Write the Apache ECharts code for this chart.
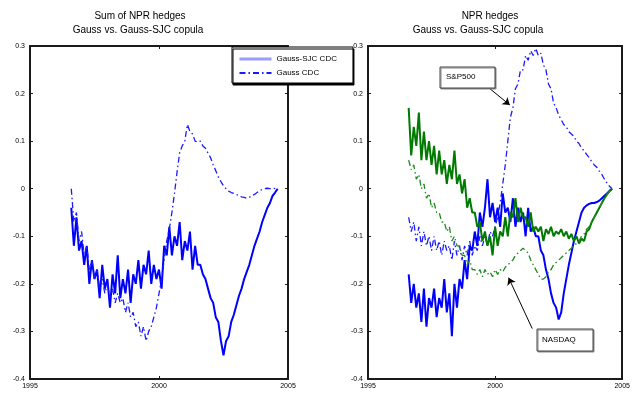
<!DOCTYPE html>
<html>
<head>
<meta charset="utf-8">
<script src="https://cdn.jsdelivr.net/npm/echarts@6/dist/echarts.min.js"></script>
<style>
html,body{margin:0;padding:0;background:#fff;}
#charts{width:633px;height:395px;}
</style>
</head>
<body>
<div id="charts"></div>
<script>
var FONT = "'Liberation Sans Narrow','Arial Narrow','Liberation Sans',sans-serif";

// shared time axis (years), one point per 0.1 year
var years = [
	1996.6,1996.7,1996.8,1996.9,1997.0,1997.1,1997.2,1997.3,1997.4,1997.5,
	1997.6,1997.7,1997.8,1997.9,1998.0,1998.1,1998.2,1998.3,1998.4,1998.5,
	1998.6,1998.7,1998.8,1998.9,1999.0,1999.1,1999.2,1999.3,1999.4,1999.5,
	1999.6,1999.7,1999.8,1999.9,2000.0,2000.1,2000.2,2000.3,2000.4,2000.5,
	2000.6,2000.7,2000.8,2000.9,2001.0,2001.1,2001.2,2001.3,2001.4,2001.5,
	2001.6,2001.7,2001.8,2001.9,2002.0,2002.1,2002.2,2002.3,2002.4,2002.5,
	2002.6,2002.7,2002.8,2002.9,2003.0,2003.1,2003.2,2003.3,2003.4,2003.5,
	2003.6,2003.7,2003.8,2003.9,2004.0,2004.1,2004.2,2004.3,2004.4,2004.5,
	2004.6
];

// 左图: 对冲之和
var sumSjc = [
	-0.04,-0.12,-0.06,-0.13,-0.11,-0.16,-0.12,-0.20,-0.15,-0.19,
	-0.17,-0.23,-0.16,-0.21,-0.19,-0.25,-0.18,-0.22,-0.14,-0.23,
	-0.19,-0.22,-0.17,-0.24,-0.18,-0.20,-0.15,-0.21,-0.16,-0.18,
	-0.13,-0.20,-0.16,-0.19,-0.17,-0.21,-0.12,-0.14,-0.08,-0.14,
	-0.10,-0.12,-0.07,-0.15,-0.11,-0.13,-0.09,-0.17,-0.12,-0.16,
	-0.16,-0.18,-0.19,-0.21,-0.23,-0.24,-0.27,-0.28,-0.32,-0.35,
	-0.32,-0.31,-0.28,-0.265,-0.245,-0.225,-0.21,-0.19,-0.175,-0.16,
	-0.14,-0.12,-0.105,-0.09,-0.07,-0.055,-0.04,-0.03,-0.015,-0.008,
	0
];
var sumGauss = [
	0.0,-0.07,-0.05,-0.11,-0.09,-0.14,-0.12,-0.17,-0.15,-0.19,
	-0.17,-0.21,-0.19,-0.22,-0.20,-0.23,-0.21,-0.24,-0.22,-0.24,
	-0.23,-0.26,-0.24,-0.27,-0.26,-0.29,-0.28,-0.31,-0.29,-0.32,
	-0.30,-0.29,-0.27,-0.25,-0.22,-0.19,-0.15,-0.11,-0.085,-0.05,
	-0.01,0.035,0.075,0.09,0.10,0.135,0.12,0.115,0.10,0.098,
	0.10,0.09,0.085,0.075,0.065,0.05,0.038,0.025,0.015,0.006,
	0.0,-0.005,-0.008,-0.01,-0.012,-0.015,-0.017,-0.018,-0.02,-0.018,
	-0.015,-0.012,-0.008,-0.004,-0.002,0.0,0.001,0.0,0.001,0.0,
	0
];

// 右图: S&P500 与 NASDAQ
var spGauss = [
	-0.06,-0.09,-0.07,-0.11,-0.08,-0.12,-0.09,-0.12,-0.10,-0.13,
	-0.10,-0.13,-0.11,-0.14,-0.11,-0.13,-0.12,-0.15,-0.11,-0.14,
	-0.12,-0.15,-0.12,-0.14,-0.11,-0.14,-0.12,-0.13,-0.10,-0.12,
	-0.10,-0.12,-0.09,-0.10,-0.08,-0.06,-0.03,0.01,0.05,0.10,
	0.15,0.17,0.21,0.22,0.25,0.25,0.28,0.27,0.29,0.28,
	0.295,0.28,0.285,0.26,0.25,0.22,0.21,0.18,0.17,0.155,
	0.145,0.135,0.13,0.12,0.115,0.11,0.10,0.095,0.085,0.08,
	0.072,0.065,0.057,0.05,0.045,0.037,0.03,0.02,0.012,0.005,
	0
];
var spSjc = [
	-0.18,-0.24,-0.20,-0.25,-0.22,-0.28,-0.21,-0.29,-0.23,-0.25,
	-0.21,-0.27,-0.23,-0.25,-0.19,-0.26,-0.22,-0.31,-0.20,-0.25,
	-0.19,-0.21,-0.15,-0.19,-0.12,-0.13,-0.09,-0.12,-0.05,-0.08,
	-0.04,0.02,-0.06,-0.03,-0.07,-0.04,-0.08,-0.01,-0.05,-0.04,
	-0.07,-0.02,-0.08,-0.04,-0.07,-0.05,-0.10,-0.04,-0.09,-0.08,
	-0.10,-0.10,-0.13,-0.14,-0.17,-0.19,-0.22,-0.24,-0.25,-0.275,
	-0.26,-0.22,-0.19,-0.16,-0.135,-0.11,-0.09,-0.07,-0.05,-0.04,
	-0.035,-0.032,-0.03,-0.03,-0.028,-0.025,-0.02,-0.015,-0.01,-0.005,
	0
];
var nqSjc = [
	0.17,0.07,0.13,0.09,0.16,0.06,0.12,0.06,0.10,0.05,
	0.09,0.03,0.08,0.03,0.06,0.01,0.05,0.02,0.08,0.01,
	0.03,-0.01,0.02,-0.04,-0.02,-0.05,-0.05,-0.08,-0.07,-0.11,
	-0.09,-0.12,-0.10,-0.14,-0.08,-0.12,-0.09,-0.10,-0.06,-0.10,
	-0.05,-0.06,-0.02,-0.07,-0.04,-0.06,-0.06,-0.08,-0.05,-0.09,
	-0.08,-0.09,-0.08,-0.11,-0.085,-0.095,-0.08,-0.10,-0.09,-0.095,
	-0.085,-0.10,-0.09,-0.105,-0.095,-0.11,-0.10,-0.115,-0.105,-0.11,
	-0.09,-0.085,-0.07,-0.06,-0.05,-0.04,-0.03,-0.02,-0.012,-0.005,
	0
];
var nqGauss = [
	0.06,0.04,0.05,0.02,0.03,0.0,0.01,-0.02,-0.01,-0.04,
	-0.03,-0.05,-0.05,-0.07,-0.07,-0.09,-0.08,-0.11,-0.10,-0.12,
	-0.12,-0.14,-0.14,-0.16,-0.15,-0.17,-0.17,-0.18,-0.17,-0.185,
	-0.17,-0.18,-0.175,-0.185,-0.17,-0.18,-0.17,-0.175,-0.165,-0.16,
	-0.155,-0.15,-0.14,-0.135,-0.13,-0.125,-0.13,-0.135,-0.15,-0.16,
	-0.17,-0.18,-0.19,-0.19,-0.185,-0.175,-0.17,-0.16,-0.155,-0.15,
	-0.145,-0.14,-0.135,-0.13,-0.125,-0.12,-0.115,-0.11,-0.10,-0.095,
	-0.085,-0.08,-0.07,-0.06,-0.05,-0.04,-0.03,-0.02,-0.012,-0.005,
	0
];

// 坐标轴范围
var xRange = [1995, 2005];
var xStep = 5;
var yRange = [-0.4, 0.3];
var yStep = 0.1;

// 箭头标注 (数据坐标)
var spArrow = [[1999.8, 0.21], [2000.58, 0.176]];
var nqArrow = [[2001.46, -0.294], [2000.53, -0.187]];

function pairs(ys){
	var out = [];
	for(var i=0;i<years.length;i++){
		out.push([years[i], ys[i]]);
	}
	return out;
}

function yFmt(v){
	var r = Math.round(v*10)/10;
	return r === 0 ? '0' : r.toString();
}
function xFmt(v){
	return String(Math.round(v));
}

var axisCol = '#1a1a1a';
var dashDot = [6, 3, 1.5, 3];

function makeX(grid, pos, show){
	return {
		type:'value', gridIndex:grid, position:pos, min:xRange[0], max:xRange[1], interval:xStep,
		axisLine:{show:true, onZero:false, lineStyle:{color:axisCol, width:2}},
		axisTick:{show:true, inside:true, length:3, lineStyle:{color:axisCol}},
		axisLabel:{show:show, fontSize:7, color:'#000', margin:4, fontFamily:FONT, formatter:xFmt},
		splitLine:{show:false}
	};
}
function makeY(grid, pos, show){
	return {
		type:'value', gridIndex:grid, position:pos, min:yRange[0], max:yRange[1], interval:yStep,
		axisLine:{show:true, onZero:false, lineStyle:{color:axisCol, width:2}},
		axisTick:{show:true, inside:true, length:3, lineStyle:{color:axisCol}},
		axisLabel:{show:show, fontSize:7, color:'#000', margin:5, fontFamily:FONT, formatter:yFmt},
		splitLine:{show:false}
	};
}

var charts = echarts.init(document.getElementById('charts'));
var option = {
	animation:false,
	backgroundColor:'#fff',
	grid:[
		{left:30, top:46, width:258, height:333},
		{left:368, top:46, width:260, height:333}
	],
	xAxis:[makeX(0,'bottom',true), makeX(0,'top',false), makeX(1,'bottom',true), makeX(1,'top',false)],
	yAxis:[makeY(0,'left',true), makeY(0,'right',false), makeY(1,'left',true), makeY(1,'right',false)],
	legend:{
		orient:'vertical',
		left:232, top:47,
		padding:[8, 16, 6, 6],
		itemGap:6,
		itemWidth:32, itemHeight:8,
		borderColor:'#000', borderWidth:1,
		backgroundColor:'#fff',
		shadowColor:'#000', shadowOffsetX:1, shadowOffsetY:2, shadowBlur:0,
		textStyle:{fontSize:8, color:'#000', fontFamily:FONT},
		itemStyle:{opacity:0},
		data:[
			{name:'Gauss-SJC CDC', lineStyle:{color:'#9a9aff', width:3, type:'solid'}, itemStyle:{opacity:0}},
			{name:'Gauss CDC', itemStyle:{opacity:0}}
		]
	},
	graphic:[
		{type:'text', x:140, y:11, style:{text:'Sum of NPR hedges', fontSize:10, fontFamily:FONT, fill:'#000', textAlign:'center'}},
		{type:'text', x:138, y:25, style:{text:'Gauss vs. Gauss-SJC copula', fontSize:10, fontFamily:FONT, fill:'#000', textAlign:'center'}},
		{type:'text', x:490, y:11, style:{text:'NPR hedges', fontSize:10, fontFamily:FONT, fill:'#000', textAlign:'center'}},
		{type:'text', x:478, y:25, style:{text:'Gauss vs. Gauss-SJC copula', fontSize:10, fontFamily:FONT, fill:'#000', textAlign:'center'}},
		{type:'rect', x:440, y:67, z:50, shape:{width:55, height:21},
			style:{fill:'#fff', stroke:'#444', lineWidth:1, shadowColor:'#888', shadowOffsetX:1, shadowOffsetY:1}},
		{type:'text', x:446, y:73, z:51, style:{text:'S&P500', fontSize:8, fontFamily:FONT, fill:'#000'}},
		{type:'rect', x:537, y:329, z:50, shape:{width:56, height:22},
			style:{fill:'#fff', stroke:'#444', lineWidth:1, shadowColor:'#888', shadowOffsetX:1, shadowOffsetY:1}},
		{type:'text', x:542, y:336, z:51, style:{text:'NASDAQ', fontSize:8, fontFamily:FONT, fill:'#000'}}
	],
	series:[
		{
			name:'Gauss-SJC CDC', type:'line', xAxisIndex:0, yAxisIndex:0,
			data:pairs(sumSjc), symbol:'none', color:'#0000ff',
			lineStyle:{color:'#0000ff', width:2}
		},{
			name:'Gauss CDC', type:'line', xAxisIndex:0, yAxisIndex:0,
			data:pairs(sumGauss), symbol:'none', color:'#1a1aff',
			lineStyle:{color:'#1a1aff', width:1.3, type:dashDot}
		},{
			name:'S&P500 Gauss', type:'line', xAxisIndex:2, yAxisIndex:2,
			data:pairs(spGauss), symbol:'none',
			lineStyle:{color:'#1a1aff', width:1.3, type:dashDot},
			markLine:{
				silent:true, symbol:['none','arrow'], symbolSize:7,
				lineStyle:{color:'#000', width:1, type:'solid'},
				label:{show:false},
				data:[
					[{coord:spArrow[0]}, {coord:spArrow[1]}],
					[{coord:nqArrow[0]}, {coord:nqArrow[1]}]
				]
			}
		},{
			name:'S&P500 Gauss-SJC', type:'line', xAxisIndex:2, yAxisIndex:2,
			data:pairs(spSjc), symbol:'none',
			lineStyle:{color:'#0000ff', width:2}
		},{
			name:'NASDAQ Gauss-SJC', type:'line', xAxisIndex:2, yAxisIndex:2,
			data:pairs(nqSjc), symbol:'none',
			lineStyle:{color:'#007a00', width:2}
		},{
			name:'NASDAQ Gauss', type:'line', xAxisIndex:2, yAxisIndex:2,
			data:pairs(nqGauss), symbol:'none',
			lineStyle:{color:'#1f8a1f', width:1.3, type:dashDot}
		}
	]
};
charts.setOption(option);
</script>
</body>
</html>
